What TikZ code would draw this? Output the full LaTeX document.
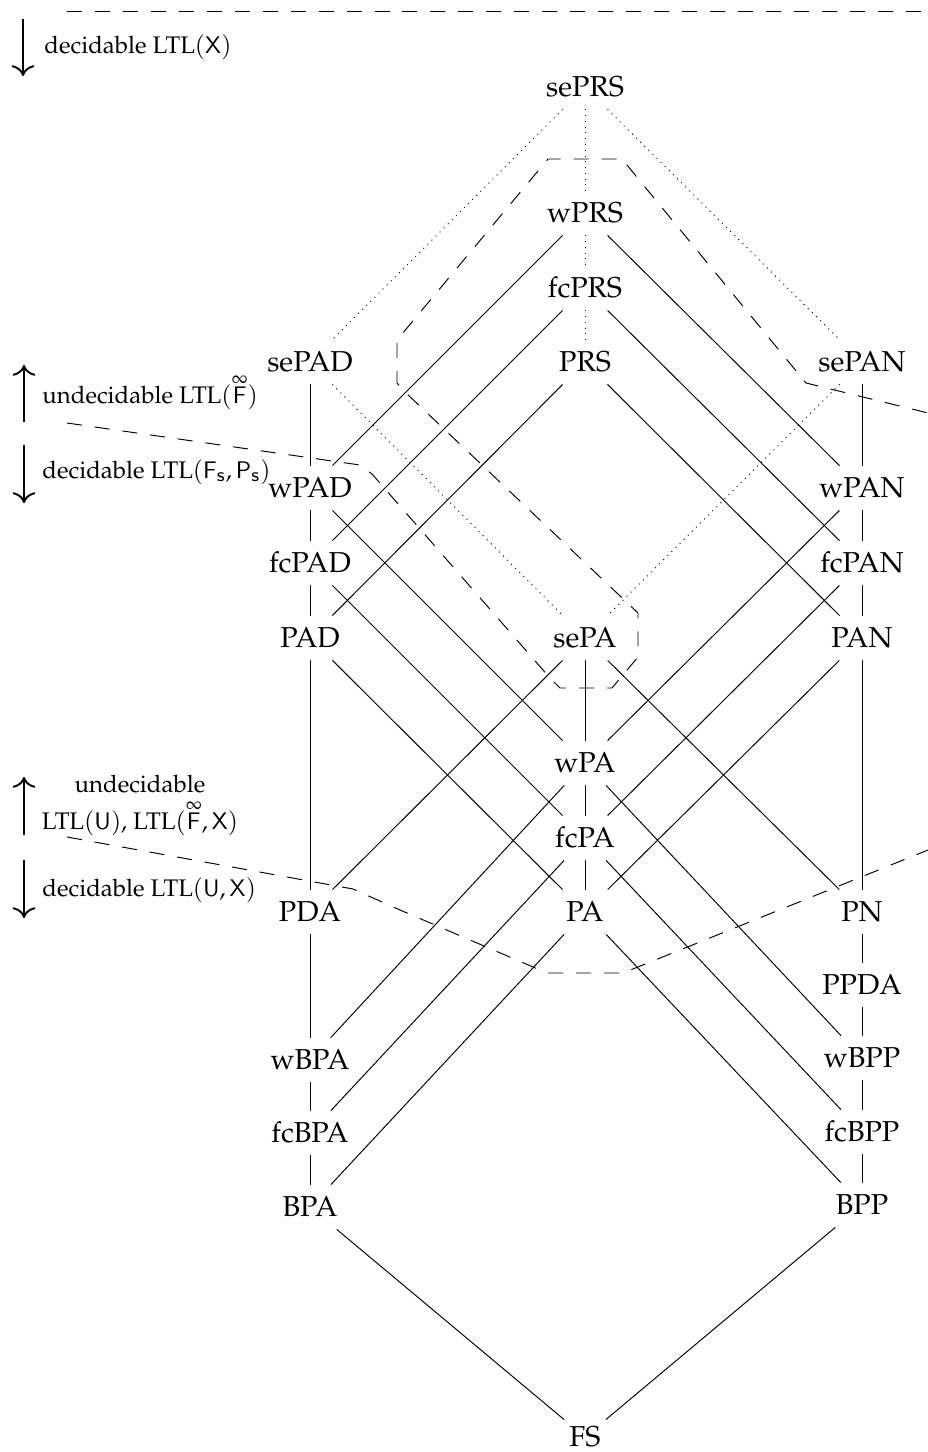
\documentclass[tikz,border=0pt]{standalone}
\usepackage[T1]{fontenc}
\usepackage{mathpazo}
\renewcommand{\rmdefault}{ppl}
\usetikzlibrary{arrows.meta}
% "infinitely often" operator: a small infinity set just above a sans F
\newcommand{\infF}{\mathord{\vbox{\offinterlineskip\halign{\hfil##\hfil\cr
  $\scriptstyle\infty$\cr\noalign{\kern0.8pt}$\mathsf{F}$\cr}}}}

\begin{document}
\begin{tikzpicture}[x=0.4167pt,y=-0.4167pt,
  cls/.style={font=\large, inner xsep=2pt, inner ysep=5pt, text height=8.3pt, text depth=0pt},
  sure/.style={line width=0.4pt},
  maybe/.style={dotted, line width=0.4pt},
  border/.style={dash pattern=on 6.25pt off 5.4pt, line width=0.4pt},
  trend/.style={line width=0.8pt, -{To[length=4.5pt,width=9.5pt]}},
  lbl/.style={font=\normalsize, inner sep=0pt, anchor=base west}]
\useasboundingbox (0,0) rectangle (928,1452);

% classes of rewrite systems
\node[cls] (sePRS) at (585,87)  {sePRS};
\node[cls] (wPRS)  at (585,213) {wPRS};
\node[cls] (fcPRS) at (585,288) {fcPRS};
\node[cls] (PRS)   at (585,362) {PRS};
\node[cls] (sePAD) at (310,362) {sePAD};
\node[cls] (sePAN) at (862,362) {sePAN};
\node[cls] (wPAD)  at (310,488) {wPAD};
\node[cls] (wPAN)  at (862,488) {wPAN};
\node[cls] (fcPAD) at (310,563) {fcPAD};
\node[cls] (fcPAN) at (862,563) {fcPAN};
\node[cls] (PAD)   at (310,638) {PAD};
\node[cls] (sePA)  at (585,638) {sePA};
\node[cls] (PAN)   at (862,638) {PAN};
\node[cls] (wPA)   at (585,763) {wPA};
\node[cls] (fcPA)  at (585,838) {fcPA};
\node[cls] (PDA)   at (310,912) {PDA};
\node[cls] (PA)    at (585,912) {PA};
\node[cls] (PN)    at (862,912) {PN};
\node[cls] (PPDA)  at (862,985) {PPDA};
\node[cls] (wBPA)  at (310,1060) {wBPA};
\node[cls] (wBPP)  at (862,1058) {wBPP};
\node[cls] (fcBPA) at (310,1133) {fcBPA};
\node[cls] (fcBPP) at (862,1132) {fcBPP};
\node[cls] (BPA)   at (310,1207) {BPA};
\node[cls] (BPP)   at (862,1205) {BPP};
\node[cls] (FS)    at (585,1437) {FS};

% dotted inclusions
\draw[maybe] (sePRS) -- (wPRS);
\draw[maybe] (wPRS) -- (fcPRS);
\draw[maybe] (fcPRS) -- (PRS);
\draw[maybe] (sePRS) -- (sePAD);
\draw[maybe] (sePRS) -- (sePAN);
\draw[maybe] (sePAD) -- (sePA);
\draw[maybe] (sePAN) -- (sePA);

% solid inclusions
\draw[sure] (wPRS) -- (wPAD);
\draw[sure] (wPRS) -- (wPAN);
\draw[sure] (fcPRS) -- (fcPAD);
\draw[sure] (fcPRS) -- (fcPAN);
\draw[sure] (PRS) -- (PAD);
\draw[sure] (PRS) -- (PAN);
\draw[sure] (sePAD) -- (wPAD);
\draw[sure] (wPAD) -- (fcPAD);
\draw[sure] (fcPAD) -- (PAD);
\draw[sure] (PAD) -- (PDA);
\draw[sure] (sePAN) -- (wPAN);
\draw[sure] (wPAN) -- (fcPAN);
\draw[sure] (fcPAN) -- (PAN);
\draw[sure] (PAN) -- (PN);
\draw[sure] (sePA) -- (wPA);
\draw[sure] (wPA) -- (fcPA);
\draw[sure] (fcPA) -- (PA);
\draw[sure] (wPAD) -- (wPA);
\draw[sure] (fcPAD) -- (fcPA);
\draw[sure] (PAD) -- (PA);
\draw[sure] (wPAN) -- (wPA);
\draw[sure] (fcPAN) -- (fcPA);
\draw[sure] (PAN) -- (PA);
\draw[sure] (sePA) -- (PDA);
\draw[sure] (sePA) -- (PN);
\draw[sure] (PDA) -- (wBPA);
\draw[sure] (wBPA) -- (fcBPA);
\draw[sure] (fcBPA) -- (BPA);
\draw[sure] (PN) -- (PPDA);
\draw[sure] (PPDA) -- (wBPP);
\draw[sure] (wBPP) -- (fcBPP);
\draw[sure] (fcBPP) -- (BPP);
\draw[sure] (wPA) -- (wBPA);
\draw[sure] (fcPA) -- (fcBPA);
\draw[sure] (PA) -- (BPA);
\draw[sure] (wPA) -- (wBPP);
\draw[sure] (fcPA) -- (fcBPP);
\draw[sure] (PA) -- (BPP);
\draw[sure] (BPA) -- (FS);
\draw[sure] (BPP) -- (FS);

% decidability borders
\draw[border] (67,11) -- (928,11);
\draw[border] (67,423) -- (360,465) -- (372,474) -- (550,678) -- (560,688)
  -- (612,688) -- (638,657) -- (638,613) -- (405,392) -- (397,383)
  -- (397,340) -- (548,159) -- (622,159) -- (806,383) -- (928,413);
\draw[border] (67,837) -- (353,889) -- (400,910) -- (547,973) -- (623,973)
  -- (928,850);

% side labels
\draw[trend] (23,19) -- (23,76);
\node[lbl] (lX) at (44,54) {decidable LTL$(\mathsf{X})$};
\draw[trend] (24,422) -- (24,365);
\node[lbl] (lF) at (42,403) {undecidable LTL$(\infF)$};
\draw[trend] (24,445) -- (24,503);
\node[lbl] (lFP) at (42,478) {decidable LTL$(\mathsf{F}_{\mathsf{s}},\mathsf{P}_{\mathsf{s}})$};
\draw[trend] (24,835) -- (24,777);
\node[lbl, anchor=base] (lU1) at (140,792) {undecidable};
\node[lbl, anchor=base] (lU2) at (140,829) {LTL$(\mathsf{U})$, LTL$(\infF,\mathsf{X})$};
\draw[trend] (24,860) -- (24,918);
\node[lbl] (lUX) at (42,896) {decidable LTL$(\mathsf{U},\mathsf{X})$};
\end{tikzpicture}
\end{document}
